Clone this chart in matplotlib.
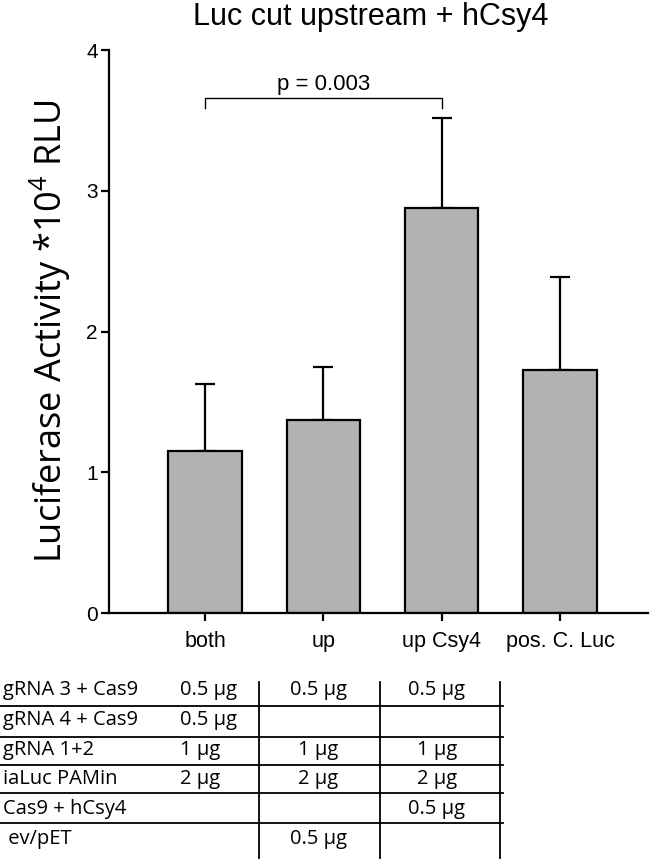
import matplotlib
matplotlib.use("Agg")
import matplotlib.pyplot as plt

# data
groups = ["both", "up", "up Csy4", "pos. C. Luc"]
means = [1.15, 1.37, 2.88, 1.73]
sd = [0.48, 0.38, 0.64, 0.66]
p_label = "p = 0.003"
p_pair = (0, 2)
p_height = 3.66

# transfection table under the plot
row_names = ["gRNA 3 + Cas9", "gRNA 4 + Cas9", "gRNA 1+2", "iaLuc PAMin",
             "Cas9 + hCsy4", " ev/pET"]
col_both = ["0.5 µg", "0.5 µg", "1 µg", "2 µg", "", ""]
col_up = ["0.5 µg", "", "1 µg", "2 µg", "", "0.5 µg"]
col_upcsy4 = ["0.5 µg", "", "1 µg", "2 µg", "0.5 µg", ""]

W, H = 650, 863
plt.rcParams['mathtext.fontset'] = 'custom'
plt.rcParams['mathtext.rm'] = 'Open Sans'
fig = plt.figure(figsize=(W / 100, H / 100), dpi=100)

###### bar chart ######
ax = fig.add_axes([109 / W, 1 - 613 / H, (648 - 109) / W, (613 - 50) / H])
x = list(range(len(groups)))
ax.errorbar(x, means, yerr=[[0] * len(sd), sd], fmt='none', ecolor='black',
            elinewidth=1.6, capsize=7, capthick=1.6, zorder=1)
ax.bar(x, means, width=0.62, color='#b2b2b2', edgecolor='black',
       linewidth=1.6, zorder=2)

ax.set_xlim(-0.811, 3.744)
ax.set_ylim(0, 4)
ax.set_yticks([0, 1, 2, 3, 4])
ax.set_xticks(x)
ax.set_xticklabels(groups, fontsize=15.5, family='Liberation Sans')
for lab in ax.get_yticklabels():
    lab.set_family('Liberation Sans')
    lab.set_fontsize(15)
ax.tick_params(axis='both', width=1.6, length=6, direction='out')
ax.tick_params(axis='x', pad=7)
ax.tick_params(axis='y', pad=2)
for s in ['top', 'right']:
    ax.spines[s].set_visible(False)
for s in ['left', 'bottom']:
    ax.spines[s].set_linewidth(1.6)

# significance bracket
a, b = p_pair
ax.plot([a, a, b, b], [p_height - 0.07, p_height, p_height, p_height - 0.07],
        color='black', lw=1.0, clip_on=False)
ax.text((a + b) / 2, p_height + 0.055, p_label, ha='center', va='baseline',
        fontsize=16, family='Liberation Sans')

fig.text(371 / W, 1 - 25 / H, "Luc cut upstream + hCsy4", ha='center',
         va='baseline', fontsize=22, family='Liberation Sans')
fig.text(50 / W, 1 - 331 / H, "Luciferase Activity *10$^{\\mathregular{4}}$ RLU",
         rotation=90, ha='center', va='center', fontsize=26, family='Open Sans')

###### table ######
tab = fig.add_axes([0, 0, 1, 1], zorder=-1)
tab.set_xlim(0, W)
tab.set_ylim(H, 0)
tab.axis('off')

row_y = [690, 720, 750, 779, 809, 839]
line_y = [706, 737, 765, 793, 823]
for y in line_y:
    tab.plot([0, 503], [y, y], color='black', lw=1.3)
for xv in [259, 380, 500]:
    tab.plot([xv, xv], [682, 858], color='black', lw=1.3)

fs = 14.5
for name, y in zip(row_names, row_y):
    tab.text(3, y, name, ha='left', va='center', fontsize=fs, family='Open Sans')
for y, c1, c2, c3 in zip(row_y, col_both, col_up, col_upcsy4):
    tab.text(180, y, c1, ha='left', va='center', fontsize=fs, family='Open Sans')
    tab.text(318, y, c2, ha='center', va='center', fontsize=fs, family='Open Sans')
    tab.text(437, y, c3, ha='center', va='center', fontsize=fs, family='Open Sans')

fig.savefig("out.png", dpi=100)
